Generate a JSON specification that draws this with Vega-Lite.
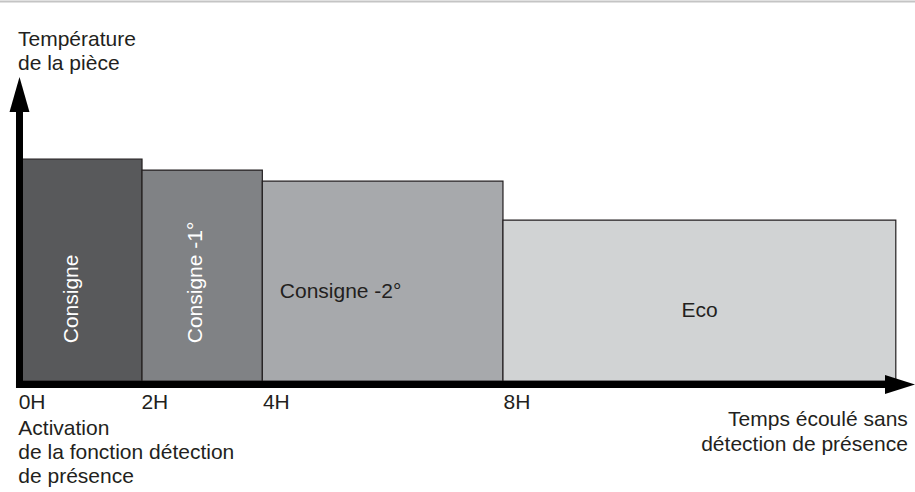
{
  "$schema": "https://vega.github.io/schema/vega-lite/v6.json",
  "width": 915,
  "height": 492,
  "autosize": {"type": "none"},
  "padding": 0,
  "background": "white",
  "config": {"view": {"stroke": null}, "text": {"font": "Liberation Sans", "fontSize": 21}},
  "datasets": {
    "phases": [
      {"phase": "Consigne", "start": 0, "end": 2, "temp": 20, "lx": 0.93, "ly": 3.4},
      {"phase": "Consigne -1°", "start": 2, "end": 4, "temp": 19, "lx": 3.0, "ly": 3.4},
      {"phase": "Consigne -2°", "start": 4, "end": 8, "temp": 18, "lx": 4.29, "ly": 7.44},
      {"phase": "Eco", "start": 8, "end": 14.53, "temp": 14.5, "lx": 11.27, "ly": 5.77}
    ],
    "ticks": [
      {"label": "0H", "h": -0.05},
      {"label": "2H", "h": 1.99},
      {"label": "4H", "h": 4.01},
      {"label": "8H", "h": 8.01}
    ],
    "axes": [
      {"h1": -0.0366, "h2": -0.0366, "v1": -0.631, "v2": 25.3},
      {"h1": -0.095, "h2": 14.45, "v1": -0.315, "v2": -0.315}
    ],
    "border": [{"h1": -0.3607, "h2": 14.849, "v": 34.19}],
    "arrowUp": [{"h": -0.0366, "v": 25.81}],
    "arrowRight": [{"h": 14.6, "v": -0.315}],
    "ytitle": [{"text": "Température\nde la pièce", "h": -0.0615, "v": 30.18}],
    "xtitle": [{"text": "Temps écoulé sans\ndétection de présence", "h": 14.73, "v": -4.05}],
    "start": [{"text": "Activation\nde la fonction détection\nde présence", "h": -0.0565, "v": -4.865}]
  },
  "resolve": {"scale": {"color": "independent"}},
  "layer": [
    {
      "data": {"name": "border"},
      "mark": {"type": "rule", "color": "#c4c4c4", "strokeWidth": 2},
      "encoding": {
        "x": {"field": "h1", "type": "quantitative", "scale": {"domain": [-0.3607, 14.849], "nice": false, "zero": false}, "axis": null},
        "x2": {"field": "h2"},
        "y": {"field": "v", "type": "quantitative", "scale": {"domain": [-10, 34.324], "nice": false, "zero": false}, "axis": null}
      }
    },
    {
      "data": {"name": "phases"},
      "mark": {"type": "rect", "stroke": "#231f20", "strokeWidth": 1.2},
      "encoding": {
        "x": {"field": "start", "type": "quantitative"},
        "x2": {"field": "end"},
        "y": {"field": "temp", "type": "quantitative"},
        "y2": {"datum": 0},
        "fill": {"field": "phase", "type": "nominal", "legend": null,
          "scale": {"domain": ["Consigne", "Consigne -1°", "Consigne -2°", "Eco"], "range": ["#58595b", "#808285", "#a7a9ac", "#d1d3d4"]}}
      }
    },
    {
      "data": {"name": "phases"},
      "transform": [{"filter": {"field": "phase", "oneOf": ["Consigne", "Consigne -1°"]}}],
      "mark": {"type": "text", "angle": 270, "align": "left", "baseline": "alphabetic", "color": "white"},
      "encoding": {
        "x": {"field": "lx", "type": "quantitative"},
        "y": {"field": "ly", "type": "quantitative"},
        "text": {"field": "phase"}
      }
    },
    {
      "data": {"name": "phases"},
      "transform": [{"filter": {"field": "phase", "equal": "Consigne -2°"}}],
      "mark": {"type": "text", "align": "left", "baseline": "alphabetic", "color": "#231f20"},
      "encoding": {
        "x": {"field": "lx", "type": "quantitative"},
        "y": {"field": "ly", "type": "quantitative"},
        "text": {"field": "phase"}
      }
    },
    {
      "data": {"name": "phases"},
      "transform": [{"filter": {"field": "phase", "equal": "Eco"}}],
      "mark": {"type": "text", "align": "center", "baseline": "alphabetic", "color": "#231f20"},
      "encoding": {
        "x": {"field": "lx", "type": "quantitative"},
        "y": {"field": "ly", "type": "quantitative"},
        "text": {"field": "phase"}
      }
    },
    {
      "data": {"name": "axes"},
      "mark": {"type": "rule", "color": "black", "strokeWidth": 7, "strokeCap": "butt"},
      "encoding": {
        "x": {"field": "h1", "type": "quantitative"},
        "x2": {"field": "h2"},
        "y": {"field": "v1", "type": "quantitative"},
        "y2": {"field": "v2"}
      }
    },
    {
      "data": {"name": "arrowUp"},
      "mark": {"type": "point", "shape": "M0,-1L0.57,1L-0.57,1Z", "size": 1225, "filled": true, "color": "black", "opacity": 1, "strokeWidth": 0},
      "encoding": {
        "x": {"field": "h", "type": "quantitative"},
        "y": {"field": "v", "type": "quantitative"}
      }
    },
    {
      "data": {"name": "arrowRight"},
      "mark": {"type": "point", "shape": "M1,0L-1,-0.63L-1,0.63Z", "size": 900, "filled": true, "color": "black", "opacity": 1, "strokeWidth": 0},
      "encoding": {
        "x": {"field": "h", "type": "quantitative"},
        "y": {"field": "v", "type": "quantitative"}
      }
    },
    {
      "data": {"name": "ticks"},
      "mark": {"type": "text", "align": "left", "baseline": "alphabetic", "color": "#231f20"},
      "encoding": {
        "x": {"field": "h", "type": "quantitative"},
        "y": {"datum": -2.48},
        "text": {"field": "label"}
      }
    },
    {
      "data": {"name": "ytitle"},
      "mark": {"type": "text", "align": "left", "baseline": "alphabetic", "lineBreak": "\n", "lineHeight": 24.5, "color": "#231f20"},
      "encoding": {
        "x": {"field": "h", "type": "quantitative"},
        "y": {"field": "v", "type": "quantitative"},
        "text": {"field": "text"}
      }
    },
    {
      "data": {"name": "start"},
      "mark": {"type": "text", "align": "left", "baseline": "alphabetic", "lineBreak": "\n", "lineHeight": 24, "color": "#231f20"},
      "encoding": {
        "x": {"field": "h", "type": "quantitative"},
        "y": {"field": "v", "type": "quantitative"},
        "text": {"field": "text"}
      }
    },
    {
      "data": {"name": "xtitle"},
      "mark": {"type": "text", "align": "right", "baseline": "alphabetic", "lineBreak": "\n", "lineHeight": 25.5, "color": "#231f20"},
      "encoding": {
        "x": {"field": "h", "type": "quantitative"},
        "y": {"field": "v", "type": "quantitative"},
        "text": {"field": "text"}
      }
    }
  ]
}
